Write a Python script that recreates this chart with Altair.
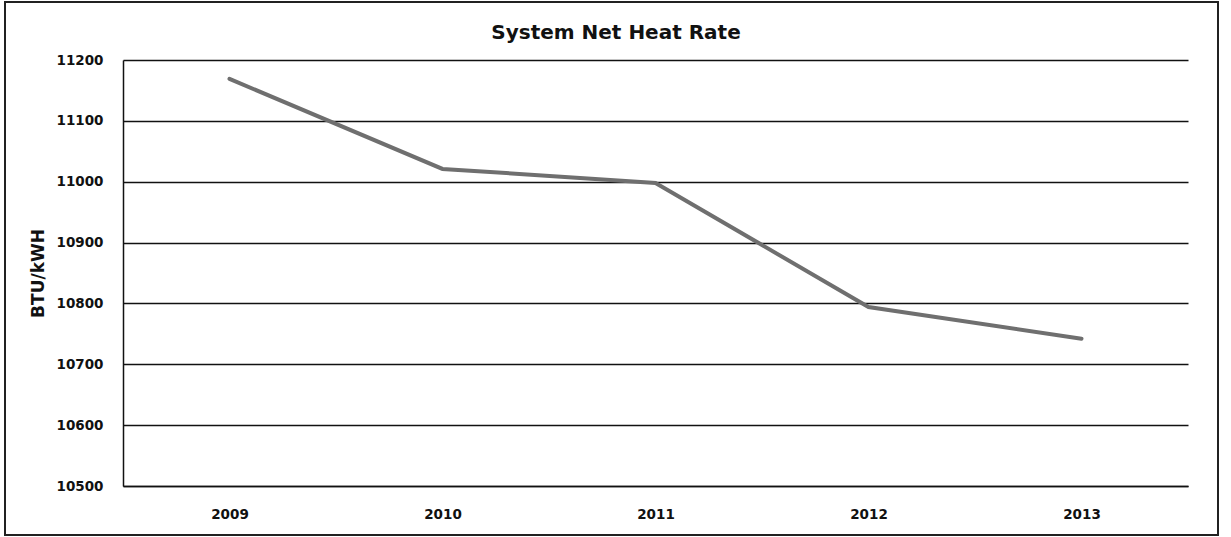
import altair as alt
import pandas as pd

# Annual system net heat rate (BTU per kWh)
years = ["2009", "2010", "2011", "2012", "2013"]
heat_rate = [11169, 11021, 10998, 10794, 10742]
y_ticks = [10500, 10600, 10700, 10800, 10900, 11000, 11100, 11200]
title_text = "System Net Heat Rate"

df = pd.DataFrame({"Year": years, "HeatRate": heat_rate})

FONT = "DejaVu Sans"
INK = "#111111"

base = alt.Chart(df)

line = base.mark_line(color="#6f6f6f", strokeWidth=4, strokeCap="round").encode(
    x=alt.X(
        "Year:N",
        sort=years,
        title=None,
        scale=alt.Scale(paddingInner=0, paddingOuter=0.5),
        axis=alt.Axis(
            labelAngle=0,
            labelFont=FONT,
            labelFontSize=13.5,
            labelFontWeight="bold",
            labelColor=INK,
            labelPadding=21,
            ticks=False,
            grid=False,
            domainColor=INK,
            domainWidth=1.5,
        ),
    ),
    y=alt.Y(
        "HeatRate:Q",
        title="BTU/kWH",
        scale=alt.Scale(domain=[10500, 11200], nice=False, zero=False),
        axis=alt.Axis(
            values=y_ticks,
            format="d",
            labelFont=FONT,
            labelFontSize=13.5,
            labelFontWeight="bold",
            labelColor=INK,
            labelPadding=20,
            ticks=False,
            grid=True,
            gridColor=INK,
            gridWidth=1.5,
            domainColor=INK,
            domainWidth=1.5,
            titleFont=FONT,
            titleFontSize=17,
            titleFontWeight="bold",
            titleColor=INK,
            titlePadding=9,
        ),
    ),
)

# Outer frame around the whole figure
frame = base.mark_rect(fill=None, stroke="#222222", strokeWidth=1.5, clip=False).encode(
    x=alt.value(-118), x2=alt.value(1095), y=alt.value(-58), y2=alt.value(475)
)

# Chart heading, centred on the full figure width
heading = (
    alt.Chart(pd.DataFrame({"t": [title_text]}))
    .mark_text(
        font=FONT,
        fontSize=20,
        fontWeight="bold",
        color=INK,
        align="center",
        baseline="alphabetic",
        clip=False,
    )
    .encode(text="t:N", x=alt.value(493), y=alt.value(-21))
)

chart = (
    alt.layer(frame, line, heading)
    .properties(
        width=1065,
        height=426,
        padding={"left": 123, "top": 60, "right": 43, "bottom": 51},
        autosize=alt.AutoSizeParams(type="none"),
        background="white",
    )
    .configure_view(stroke=None)
)

chart.save("out.html", embed_options={"renderer": "svg", "actions": False})
